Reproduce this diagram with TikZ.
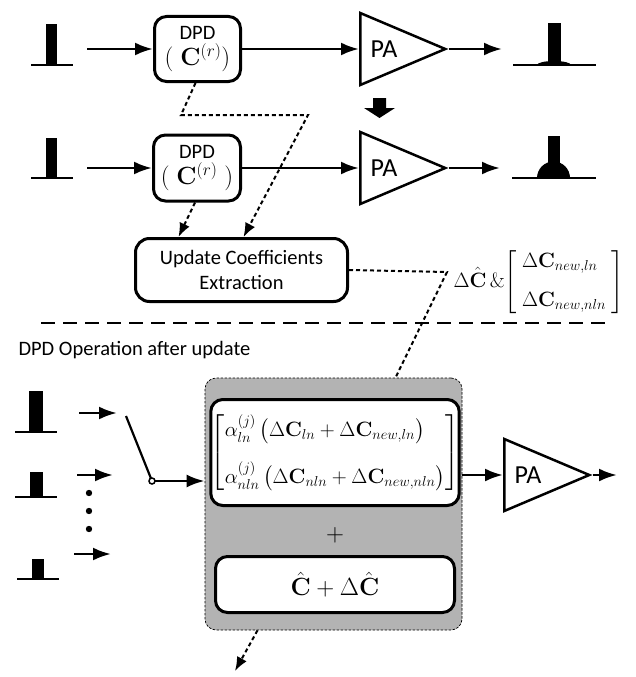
\documentclass[tikz,border=0pt]{standalone}
\usepackage{amsmath, amssymb}
\usepackage[no-math]{fontspec}
\setmainfont{Carlito}
\usepackage{tikz}
\usetikzlibrary{positioning,arrows.meta,calc,shapes.geometric}
\definecolor{shade}{RGB}{179,179,179}
\tikzset{
    >={Latex[length=18pt,width=13pt]},
    flow/.style = {
        line width=2.8pt
    },
    link/.style = {
        line width=2pt,
        dash pattern=on 4pt off 3pt,
        -{Latex[length=14pt,width=11pt]}
    },
    block/.style = {
        draw,
        shape=rectangle,
        rounded corners=12pt,
        line width=3pt,
        inner sep=0pt,
        align=center,
        font=\fontsize{20.5}{25}\selectfont
    },
    amp/.style = {
        draw,
        shape=isosceles triangle,
        isosceles triangle stretches,
        minimum width=72pt,
        minimum height=85pt,
        inner sep=0pt,
        line width=2.5pt
    },
    amptext/.style = {
        font=\fontsize{26}{28}\selectfont
    },
    panel/.style = {
        draw,
        fill=shade,
        line width=0.7pt,
        dash pattern=on 2.5pt off 1.5pt,
        rounded corners=11pt,
        inner sep=0pt
    },
    inner/.style = {
        draw,
        fill=white,
        rounded corners=12pt,
        line width=3pt,
        inner sep=0pt,
        font=\fontsize{21}{25}\selectfont
    },
    base/.style = {
        line width=2.5pt
    },
}

\begin{document}
\begin{tikzpicture}[x=1pt,y=-1pt]
    \useasboundingbox (0,0) rectangle (636,677);

    % before the update
    \fill (46,24) rectangle (57,65);
    \draw[base] (31,65) -- (73,65);
    \coordinate (in1) at (87,49);
    \node[block, minimum width=86pt, minimum height=65pt] (dpd1) at (197.5,49) {DPD\\[1pt]{\fontsize{23}{26}\selectfont$(\;\mathbf{C}^{(r)})$}};
    \node[amp, anchor=west] (pa1) at (359,49) {};
    \node[amptext] (pa1t) at ([xshift=25pt]pa1.west) {PA};
    \coordinate (out1) at (502,49);
    \fill (548,23) rectangle (561,65);
    \fill (537,65) arc[start angle=180, end angle=0, x radius=17pt, y radius=4pt];
    \draw[base] (513,65) -- (596,65);

    \draw[flow,->] (in1) -- (dpd1);
    \draw[flow,->] (dpd1) -- (pa1.west);
    \draw[flow,->] (pa1.east) -- (out1);

    % down arrow
    \fill (373,98) -- (386,98) -- (386,108) -- (395,108) -- (379.5,118) -- (364,108) -- (373,108) -- cycle;

    % with the update
    \fill (46,138) rectangle (57,178);
    \draw[base] (31,178) -- (73,178);
    \coordinate (in2) at (87,168);
    \node[block, minimum width=87pt, minimum height=66pt] (dpd2) at (197,168) {DPD\\[1pt]{\fontsize{23}{26}\selectfont$(\;\mathbf{C}^{(r)}\;)$}};
    \node[amp, anchor=west] (pa2) at (359,168) {};
    \node[amptext] (pa2t) at ([xshift=25pt]pa2.west) {PA};
    \coordinate (out2) at (500,168);
    \fill (537,178) arc[start angle=180, end angle=0, radius=16.5pt];
    \fill (548,136) rectangle (560,178);
    \draw[base] (512,178) -- (596,178);

    \draw[flow,->] (in2) -- (dpd2);
    \draw[flow,->] (dpd2) -- (pa2.west);
    \draw[flow,->] (pa2.east) -- (out2);

    \node[block, minimum width=212pt, minimum height=63pt, rounded corners=14pt] (upd) at (241.5,270) {Update Coefficients\\Extraction};

    \coordinate (k1) at (181,115);
    \coordinate (k2) at (308,115);
    \draw[link] ([xshift=-2pt]dpd1.south) -- (k1) -- (k2) -- ([xshift=2pt]upd.north);
    \draw[link] ([xshift=-2pt]dpd2.south) -- ([xshift=-63pt]upd.north);

    \node[anchor=west, font=\fontsize{21}{25}\selectfont] (coef) at (450,282)
        {$\Delta\hat{\mathbf{C}}\,\&\!\left[\begin{array}{l}\Delta\mathbf{C}_{new,ln}\\[14pt]\Delta\mathbf{C}_{new,nln}\end{array}\right]$};

    % separator
    \coordinate (s1) at (41,323);
    \coordinate (s2) at (606,323);
    \draw[line width=2pt, dash pattern=on 14pt off 8pt] (s1) -- (s2);

    \node[anchor=west, font=\fontsize{20.5}{24}\selectfont] (opnote) at (15,350) {DPD Operation after update};

    % operation after update
    \node[panel, minimum width=257pt, minimum height=252pt] (gbox) at (333.5,504) {};
    \node[inner, minimum width=239pt, minimum height=106pt] (terms) at (335,452.5)
        {$\left[\begin{array}{@{}l@{}}\alpha_{ln}^{(j)}\,\big(\Delta\mathbf{C}_{ln}+\Delta\mathbf{C}_{new,ln}\big)\\[18pt]\alpha_{nln}^{(j)}\,\big(\Delta\mathbf{C}_{nln}+\Delta\mathbf{C}_{new,nln}\big)\end{array}\right]$};
    \node[font=\fontsize{26}{28}\selectfont] (plus) at (335,535) {$+$};
    \node[inner, minimum width=239pt, minimum height=56pt, font=\fontsize{25}{28}\selectfont] (sum) at (335,584.5)
        {$\hat{\mathbf{C}}+\Delta\hat{\mathbf{C}}$};

    \coordinate (k3) at (447,272);
    \draw[line width=2pt, dash pattern=on 4pt off 3pt] (upd.east) -- (k3) -- ([xshift=62pt]gbox.north);

    % input signals
    \fill (29,391) rectangle (43,432);
    \draw[base] (15,432) -- (57,432);
    \fill (30,472) rectangle (43,497);
    \draw[base] (15,497) -- (57,497);
    \fill (32,559) rectangle (44,579);
    \draw[base] (17,579) -- (59,579);

    \coordinate (ina) at (79,413);
    \coordinate (inae) at (117,413);
    \coordinate (inb) at (77,475);
    \coordinate (inbe) at (113,475);
    \coordinate (inc) at (74,554);
    \coordinate (ince) at (111,554);
    \draw[flow,->] (ina) -- (inae);
    \draw[flow,->] (inb) -- (inbe);
    \draw[flow,->] (inc) -- (ince);

    \fill (89,493) circle (3.2pt);
    \fill (89,511) circle (3.2pt);
    \fill (89,529) circle (3.2pt);

    % switch
    \coordinate (sw) at (152,481);
    \coordinate (blade) at (126,416);
    \draw[line width=2.2pt] (blade) -- (sw);
    \draw[flow,->] (sw) -- (sw -| gbox.west);
    \draw[line width=1.5pt, fill=white] (sw) circle (3pt);

    \node[amp, anchor=west] (pa3) at (503,475) {};
    \node[amptext] (pa3t) at ([xshift=25pt]pa3.west) {PA};
    \coordinate (out3) at (617,475);
    \draw[flow,->] (pa3.west -| gbox.east) -- (pa3.west);
    \draw[flow,->] (pa3.east) -- (out3);

    \coordinate (down) at (235,671);
    \draw[link] ([xshift=-76pt]gbox.south) -- (down);
\end{tikzpicture}
\end{document}
